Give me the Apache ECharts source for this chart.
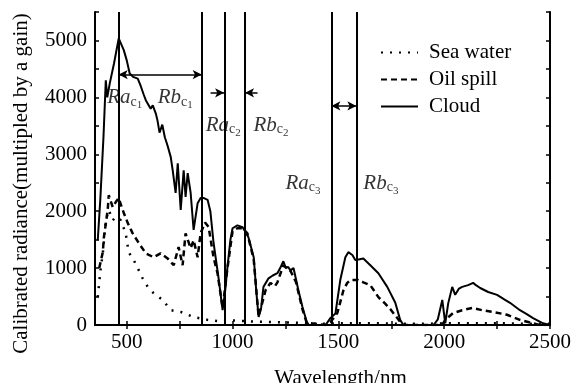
<!DOCTYPE html>
<html><head><meta charset="utf-8">
<script src="https://cdn.jsdelivr.net/npm/echarts@6/dist/echarts.min.js"></script>
<style>html,body{margin:0;padding:0;background:#fff}#c{width:572px;height:383px}</style>
</head><body><div id="c"></div>
<script>
// ---- data ----
var cloudWl = [363,375,390,401,408,420,440,462,486,500,514,530,552,566,580,590,613,623,637,645,655,668,680,693,708,717,731,741,755,769,778,788,802,816,835,849,865,882,895,910,934,953,965,976,990,1000,1023,1047,1075,1100,1112,1123,1135,1146,1170,1190,1212,1225,1240,1252,1262,1274,1288,1300,1311,1330,1350,1360,1440,1462,1486,1509,1533,1547,1566,1580,1595,1604,1618,1651,1689,1731,1769,1792,1807,1950,1970,1991,2005,2019,2038,2052,2070,2085,2113,2137,2150,2170,2208,2250,2280,2311,2358,2390,2420,2467,2500];
var cloudVal = [1490,2200,3300,4300,4000,4250,4600,5035,4830,4650,4420,4360,4330,4200,4050,3950,3800,3860,3720,3600,3380,3520,3300,3150,2950,2720,2320,2840,2020,2720,2250,2670,2320,1670,2140,2230,2230,2200,2000,1450,820,260,600,1020,1500,1700,1750,1720,1540,1190,600,140,300,670,820,870,910,1000,1120,1000,1020,960,1000,800,610,320,60,0,0,120,200,790,1190,1280,1230,1140,1150,1130,1170,1050,910,670,390,90,0,0,100,440,30,380,670,530,640,670,700,740,700,650,580,530,460,390,260,190,120,30,0];
var oilWl = [370,387,392,410,415,434,448,462,481,505,528,557,590,627,660,693,722,745,764,778,802,816,835,849,870,887,910,929,953,976,1000,1023,1047,1070,1100,1123,1156,1179,1200,1212,1240,1274,1300,1330,1350,1440,1462,1495,1524,1542,1557,1594,1618,1651,1689,1720,1745,1783,1802,1990,2005,2042,2085,2132,2179,2231,2297,2358,2420,2450,2500];
var oilVal = [1000,1280,1540,2020,2280,2070,2160,2230,2020,1790,1610,1440,1260,1190,1260,1170,1050,1370,1050,1610,1350,1490,1190,1610,1800,1720,1190,910,300,1000,1650,1700,1700,1610,1150,150,610,740,680,750,1050,950,750,280,40,0,50,210,610,740,790,790,750,700,490,380,280,100,0,0,90,210,260,300,260,230,180,90,30,0,0];
var seaWl = [363,377,387,401,415,434,448,472,495,509,533,552,575,599,627,670,708,755,816,882,950,1000,1100,1200,1300,1400,1500,1600,1700,1800,1900,2000,2100,2200,2300,2400,2500];
var seaVal = [490,1000,1260,1840,2020,1840,1900,1840,1610,1280,1140,1000,820,670,560,440,260,230,140,90,60,80,60,50,40,20,30,30,30,20,20,30,30,30,30,20,20];
var seriesNames = ['Sea water','Oil spill','Cloud'];
var xTickLabels = [500,1000,1500,2000,2500];
var bandEdges = [462,854,962,1057,1467,1585];
var regionNames = [['Ra','1'],['Rb','1'],['Ra','2'],['Rb','2'],['Ra','3'],['Rb','3']];
var regionLabelPos = [[408,4000],[646,4000],[873,3510],[1099,3510],[1250,2490],[1618,2490]];
// arrows: [x1, x2, y, headStart, headEnd]
var arrows = [[462,854,4400,1,1],[896,960,4080,0,1],[1118,1059,4080,0,1],[1467,1585,3850,1,1]];

function zip(a,b){return a.map(function(v,i){return [v,b[i]];});}
var FF = 'Liberation Serif';
var FS = 21;
var chart = echarts.init(document.getElementById('c'), null, {renderer:'canvas'});
var tick250 = []; for (var t=500;t<=2500;t+=250) tick250.push(t);

var option = {
  animation:false,
  textStyle:{fontFamily:FF,color:'#000'},
  grid:{left:95,right:22,top:12,bottom:58,containLabel:false,outerBoundsMode:'none'},
  legend:{
    orient:'vertical', left:375, top:37, itemWidth:37, itemHeight:14, itemGap:6,
    itemStyle:{color:'rgba(0,0,0,0)',borderColor:'rgba(0,0,0,0)',borderWidth:0},
    textStyle:{fontFamily:FF,fontSize:FS,color:'#000',padding:[0,0,0,6]},
    data:seriesNames
  },
  xAxis:[{
    type:'value', min:350, max:2500, position:'bottom',
    name:'Wavelength/nm', nameLocation:'middle', nameGap:43,
    nameTextStyle:{fontFamily:FF,fontSize:FS,color:'#000',padding:[0,0,0,36]},
    axisLine:{lineStyle:{color:'#000',width:2}},
    axisTick:{inside:true,length:4,customValues:tick250,lineStyle:{color:'#000',width:1.5}},
    axisLabel:{customValues:xTickLabels,fontFamily:FF,fontSize:FS,color:'#000',margin:7,
      formatter:function(v){return String(v);}},
    splitLine:{show:false}
  },{
    type:'value', min:350, max:2500, position:'top',
    axisLine:{lineStyle:{color:'#000',width:2}},
    axisTick:{inside:true,length:4,customValues:tick250,lineStyle:{color:'#000',width:1.5}},
    axisLabel:{show:false}, splitLine:{show:false}
  }],
  yAxis:[{
    type:'value', min:0, max:5500, interval:500, position:'left',
    name:'Calibrated radiance(multipled by a gain)', nameLocation:'middle', nameGap:63,
    nameTextStyle:{fontFamily:FF,fontSize:FS,color:'#000',padding:[0,30,0,0]},
    axisLine:{show:true,lineStyle:{color:'#000',width:2}},
    axisTick:{show:true,inside:true,length:4,lineStyle:{color:'#000',width:1.5}},
    axisLabel:{fontFamily:FF,fontSize:FS,color:'#000',margin:8,
      formatter:function(v){return v%1000===0?String(v):'';}},
    splitLine:{show:false}
  },{
    type:'value', min:0, max:5500, interval:500, position:'right',
    axisLine:{show:true,lineStyle:{color:'#000',width:2}},
    axisTick:{show:true,inside:true,length:4,lineStyle:{color:'#000',width:1.5}},
    axisLabel:{show:false}, splitLine:{show:false}
  }],
  series:[
    {name:'Sea water',type:'line',data:zip(seaWl,seaVal),showSymbol:false,symbol:'none',
     lineStyle:{color:'#000',width:2.5,type:[2,7]},itemStyle:{color:'#000'}},
    {name:'Oil spill',type:'line',data:zip(oilWl,oilVal),showSymbol:false,symbol:'none',
     lineStyle:{color:'#000',width:2.5,type:[6,4]},itemStyle:{color:'#000'}},
    {name:'Cloud',type:'line',data:zip(cloudWl,cloudVal),showSymbol:false,symbol:'none',
     lineStyle:{color:'#000',width:2},itemStyle:{color:'#000'},
     markLine:{silent:true,symbol:'none',label:{show:false},
       lineStyle:{color:'#000',width:2,type:'solid'},
       data:bandEdges.map(function(x){return {xAxis:x};})}},
    {name:'arrows',type:'line',data:[],
     markLine:{silent:true,symbolSize:[7,9],label:{show:false},
       lineStyle:{color:'#000',width:1.5,type:'solid'},
       data:arrows.map(function(a){return [
         {coord:[a[0],a[2]],symbol:a[3]?'arrow':'none'},
         {coord:[a[1],a[2]],symbol:a[4]?'arrow':'none'}];})}},
    {name:'labels',type:'scatter',symbolSize:0,silent:true,
     data:regionLabelPos.map(function(p,i){return {value:p};}),
     label:{show:true,position:'right',distance:0,
       formatter:function(p){var r=regionNames[p.dataIndex];return '{a|'+r[0]+'}{c|c}{n|'+r[1]+'}';},
       rich:{
         a:{fontFamily:FF,fontStyle:'italic',fontSize:21,color:'#000'},
         c:{fontFamily:FF,fontSize:14,color:'#000',padding:[9,0,0,0]},
         n:{fontFamily:FF,fontSize:11,color:'#000',padding:[15,0,0,0]}
       }}}
  ]
};
chart.setOption(option);
</script></body></html>
